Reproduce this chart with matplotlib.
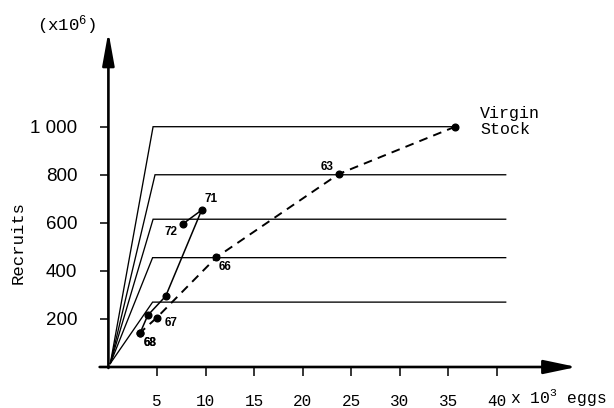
import matplotlib
matplotlib.use("Agg")
import matplotlib.pyplot as plt

# ---------------- data ----------------
# hockey-stick stock-recruitment lines (recruits x10^6)
levels = [1000, 800, 615, 455, 270]
break_eggs = [4.6, 4.8, 4.6, 4.55, 4.55]
level_end = [35.7, 40.9, 40.9, 40.9, 40.9]
ramp_start = (0.2, 15)

# dashed trajectory (virgin stock -> 63 -> 66 -> 67 -> 68)
dash_labels = ["Virgin", "63", "66", "67", "68"]
dash_eggs = [35.7, 23.7, 11.1, 4.97, 3.28]
dash_recruits = [1000, 803, 456, 205, 143]

# solid trajectory (68 -> 69 -> 70 -> 71 -> 72)
solid_labels = ["68", "69", "70", "71", "72"]
solid_eggs = [3.28, 4.05, 5.9, 9.6, 7.65]
solid_recruits = [143, 215, 295, 653, 595]

xticks = [5, 10, 15, 20, 25, 30, 35, 40]
xtick_labels = ["5", "10", "15", "20", "25", "30", "35", "40"]
yticks = [0, 200, 400, 600, 800, 1000]
ytick_labels = ["", "200", "400", "600", "800", "1 000"]

# label offsets in pixels for year labels
label_offsets = {"71": (9, 11), "72": (-12, -8), "66": (9, -10),
                 "67": (14, -5), "68": (10, -10), "63": (-12, 7)}

MONO = ["Liberation Mono", "DejaVu Sans Mono"]
SANS = ["Liberation Sans", "DejaVu Sans"]
plt.rcParams["mathtext.default"] = "regular"

W, H, DPI = 614, 408, 100
fig = plt.figure(figsize=(W / DPI, H / DPI), dpi=DPI)
x0_px, y0_px = 108.4, 367.0
xs, ys = 9.714, 0.2403
right_px, top_px = 605.0, 15.0
ax = fig.add_axes([x0_px / W, (H - y0_px) / H, (right_px - x0_px) / W, (y0_px - top_px) / H])
ax.set_xlim(0, (right_px - x0_px) / xs)
ax.set_ylim(0, (y0_px - top_px) / ys)
for s in ax.spines.values():
    s.set_visible(False)
ax.patch.set_alpha(0)

# axes with arrows
ax.annotate("", xy=(48.2, 0), xytext=(-0.9, 0), xycoords="data",
            arrowprops=dict(arrowstyle="-|>,head_length=2.0,head_width=0.42",
                            mutation_scale=10, lw=1.9, color="black",
                            shrinkA=0, shrinkB=0), annotation_clip=False)
ax.annotate("", xy=(0, 1395), xytext=(0, -4), xycoords="data",
            arrowprops=dict(arrowstyle="-|>,head_length=2.0,head_width=0.36",
                            mutation_scale=10, lw=1.9, color="black",
                            shrinkA=0, shrinkB=0), annotation_clip=False)

# hockey sticks
for lev, bx, ex in zip(levels, break_eggs, level_end):
    ax.plot([ramp_start[0], bx, ex], [ramp_start[1], lev, lev],
            color="black", lw=0.95, solid_joinstyle="miter")

# dashed trajectory
ax.plot(dash_eggs, dash_recruits, color="black", lw=1.4, ls=(0, (4.5, 3.2)))
ax.plot(dash_eggs, dash_recruits, ls="none", marker="o", ms=4.8, color="black")

# solid trajectory
ax.plot(solid_eggs, solid_recruits, color="black", lw=1.1, marker="o", ms=4.8)

# year labels
for lab, x, y in list(zip(dash_labels, dash_eggs, dash_recruits)) + list(zip(solid_labels, solid_eggs, solid_recruits)):
    if lab in label_offsets:
        dx, dy = label_offsets[lab]
        ax.annotate(lab, xy=(x, y), xytext=(dx, dy), textcoords="offset pixels",
                    ha="center", va="center", fontsize=8.5, fontweight="bold",
                    family=SANS)

# ticks
ax.set_xticks(xticks)
ax.set_xticklabels(xtick_labels, family=MONO, fontsize=11.5)
ax.set_yticks(yticks)
ax.set_yticklabels(ytick_labels, family=SANS, fontsize=13.5)
ax.tick_params(axis="x", direction="out", length=6.5, width=1.1, pad=13)
ax.tick_params(axis="y", direction="out", length=6, width=1.1, pad=16.5)

# texts
ax.text((510 - x0_px) / xs, (y0_px - 403) / ys, "x 10$^3$ eggs", family=MONO,
        fontsize=11.8, ha="left", va="baseline", clip_on=False)
ax.text((67 - x0_px) / xs, (y0_px - 25) / ys, "(x10$^6$)", family=MONO,
        fontsize=12.5, ha="center", va="center", clip_on=False)
ax.text((18 - x0_px) / xs, (y0_px - 243) / ys, "Recruits", family=MONO,
        fontsize=12.5, rotation=90, ha="center", va="center", clip_on=False)
ax.text((480 - x0_px) / xs, (y0_px - 121.5) / ys, "Virgin\nStock", family=MONO,
        fontsize=12, ha="left", va="center", linespacing=1.15, clip_on=False)

fig.savefig("out.png", dpi=DPI)
